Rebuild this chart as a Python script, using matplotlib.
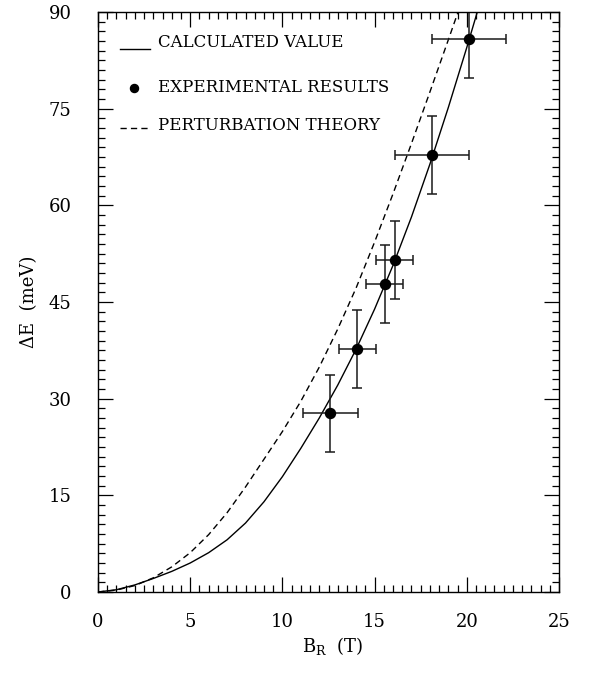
import matplotlib
matplotlib.use("Agg")
import matplotlib.pyplot as plt
from matplotlib.ticker import MultipleLocator

# ---- data ----
exp_B = [12.6, 14.05, 15.55, 16.1, 18.1, 20.1]
exp_E = [27.7, 37.7, 47.8, 51.5, 67.8, 85.8]
exp_Berr = [1.5, 1.0, 1.0, 1.0, 2.0, 2.0]
exp_Eerr = [6.0, 6.0, 6.0, 6.0, 6.0, 6.0]

calc_B = [0, 1, 2, 3, 4, 5, 6, 7, 8, 9, 10, 11, 12, 13, 14, 15, 16, 17, 18, 19, 20, 20.6]
calc_E = [0.0, 0.35, 1.1, 2.1, 3.2, 4.5, 6.1, 8.1, 10.7, 14.0, 17.9, 22.3, 27.0, 32.1,
          37.7, 43.9, 50.7, 58.2, 66.4, 75.2, 84.5, 90.3]

pert_B = [0, 1, 2, 3, 4, 5, 6, 7, 8, 9, 10, 11, 12, 13, 14, 15, 16, 17, 18, 19, 19.55]
pert_E = [0.0, 0.3, 1.0, 2.2, 3.9, 6.1, 8.9, 12.3, 16.3, 20.6, 24.9, 29.6, 34.9, 40.8,
          47.2, 54.3, 61.8, 69.6, 77.6, 85.7, 90.2]

legend_labels = ["CALCULATED VALUE", "EXPERIMENTAL RESULTS", "PERTURBATION THEORY"]
x_ticks = [0, 5, 10, 15, 20, 25]
y_ticks = [0, 15, 30, 45, 60, 75, 90]

plt.rcParams['font.family'] = ['DejaVu Serif']
plt.rcParams['mathtext.fontset'] = 'dejavuserif'

fig = plt.figure(figsize=(6.05, 6.77), dpi=100)
ax = fig.add_axes([98 / 605, 85 / 677, 461 / 605, 580 / 677])

ax.plot(calc_B, calc_E, color='black', lw=1.0, solid_joinstyle='round')
ax.plot(pert_B, pert_E, color='black', lw=1.0, linestyle=(0, (4.5, 3.0)))
ax.errorbar(exp_B, exp_E, xerr=exp_Berr, yerr=exp_Eerr, fmt='o', color='black',
            ms=7.2, ecolor='#1a1a1a', elinewidth=1.1, capsize=3.6, capthick=1.1)

ax.set_xlim(0, 25)
ax.set_ylim(0, 90)
ax.set_xticks(x_ticks)
ax.set_yticks(y_ticks)
ax.xaxis.set_minor_locator(MultipleLocator(0.5))
ax.yaxis.set_minor_locator(MultipleLocator(1.5))
ax.tick_params(which='both', direction='in', top=True, right=True, width=0.9, color='black')
ax.tick_params(which='major', length=11)
ax.tick_params(which='minor', length=5)
ax.tick_params(axis='x', which='major', pad=15, labelsize=13)
ax.tick_params(axis='y', which='major', pad=19, labelsize=13)
for s in ax.spines.values():
    s.set_linewidth(1.0)

ax.set_xlabel(r"$\mathrm{B_R}$  (T)", fontsize=13)
ax.set_ylabel(r"ΔE  (meV)", fontsize=13)
ax.xaxis.set_label_coords(0.51, -0.074)
ax.yaxis.set_label_coords(-0.13, 0.5)

# legend (drawn manually in axes fraction)
ax.plot([0.0477, 0.113], [0.937, 0.937], transform=ax.transAxes, color='black', lw=1.0)
ax.plot([0.078], [0.869], 'o', transform=ax.transAxes, color='black', ms=5.8)
ax.plot([0.0477, 0.113], [0.80, 0.80], transform=ax.transAxes, color='black', lw=1.0,
        linestyle=(0, (4.5, 3.0)))
for yy, lab in zip([0.9397, 0.862, 0.7966], legend_labels):
    ax.text(0.130, yy, lab, transform=ax.transAxes, fontsize=12, va='baseline', ha='left')

fig.savefig("out.png", dpi=100)
